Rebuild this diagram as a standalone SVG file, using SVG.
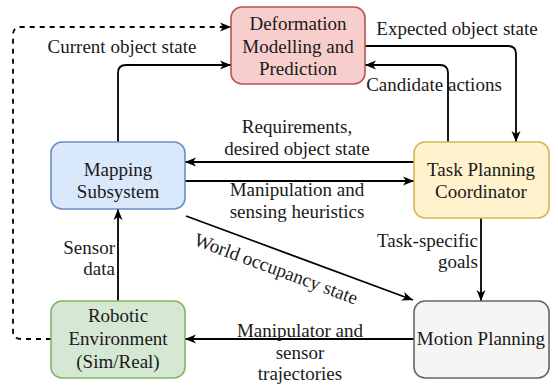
<svg xmlns="http://www.w3.org/2000/svg" width="558" height="387" viewBox="0 0 558 387" font-family="Liberation Serif, DejaVu Serif, serif">
  <style>
    .box { stroke-width: 1.6; }
    .red { fill: #f8cecc; stroke: #b85450; }
    .blue { fill: #dae8fc; stroke: #6c8ebf; }
    .yellow { fill: #fff2cc; stroke: #d6b656; }
    .green { fill: #d5e8d4; stroke: #82b366; }
    .grey { fill: #f5f5f5; stroke: #666666; }
    text { font-family: 'Liberation Serif', 'DejaVu Serif', serif; font-size: 19px; fill: #1a1a1a; }
    .c { text-anchor: middle; }
    .r { text-anchor: end; }
    .edge { fill: none; stroke: #000; stroke-width: 1.8; marker-end: url(#arrow); }
    .dash { stroke-dasharray: 5 5; }
  </style>
  <defs>
    <marker id="arrow" markerUnits="userSpaceOnUse" markerWidth="12" markerHeight="10" refX="11" refY="5" orient="auto">
      <path d="M0,0.5 L11,5 L0,9.5 L3,5 Z" fill="#000"/>
    </marker>
  </defs>
  <rect width="558" height="387" fill="#fff"/>

  <g id="connectors">
    <path class="edge dash" d="M51,339 L21,339 Q13,339 13,331 L13,35 Q13,27 21,27 L231,27"/>
    <path class="edge" d="M118,142 L118,73 Q118,65 126,65 L231,65"/>
    <path class="edge" d="M365,46 L508,46 Q516,46 516,54 L516,142"/>
    <path class="edge" d="M448,142 L448,73 Q448,65 440,65 L365,65"/>
    <path class="edge" d="M414,162 L185,162"/>
    <path class="edge" d="M185,181 L414,181"/>
    <path class="edge" d="M186,216 L413,300"/>
    <path class="edge" d="M481,218 L481,301"/>
    <path class="edge" d="M414,339 L185,339"/>
    <path class="edge" d="M118,301 L118,209"/>

    <text class="c" x="122" y="53">Current object state</text>
    <text class="c" x="457" y="35">Expected object state</text>
    <text class="c" x="434" y="91">Candidate actions</text>
    <text class="c" x="297" y="133">Requirements,</text>
    <text class="c" x="297" y="155">desired object state</text>
    <text class="c" x="297" y="196">Manipulation and</text>
    <text class="c" x="297" y="218">sensing heuristics</text>
    <text class="c" transform="translate(276,269) rotate(20.3)" x="0" y="6">World occupancy state</text>
    <text class="r" x="478" y="247">Task-specific</text>
    <text class="r" x="478" y="268">goals</text>
    <text class="r" x="115" y="254">Sensor</text>
    <text class="r" x="115" y="275">data</text>
    <text class="c" x="300" y="337">Manipulator and</text>
    <text class="c" x="300" y="359">sensor</text>
    <text class="c" x="300" y="380">trajectories</text>
  </g>

  <g id="deformation">
    <rect class="box red" x="231" y="7" width="134" height="77" rx="11"/>
    <text class="c" x="298" y="30">Deformation</text>
    <text class="c" x="298" y="53">Modelling and</text>
    <text class="c" x="298" y="75">Prediction</text>
  </g>

  <g id="mapping">
    <rect class="box blue" x="51" y="142" width="134" height="67" rx="11"/>
    <text class="c" x="118" y="176">Mapping</text>
    <text class="c" x="118" y="198">Subsystem</text>
  </g>

  <g id="task-planning">
    <rect class="box yellow" x="414" y="142" width="135" height="76" rx="11"/>
    <text class="c" x="481" y="176">Task Planning</text>
    <text class="c" x="481" y="198">Coordinator</text>
  </g>

  <g id="robotic-environment">
    <rect class="box green" x="51" y="301" width="134" height="77" rx="11"/>
    <text class="c" x="118" y="322">Robotic</text>
    <text class="c" x="118" y="345">Environment</text>
    <text class="c" x="118" y="368">(Sim/Real)</text>
  </g>

  <g id="motion-planning">
    <rect class="box grey" x="414" y="301" width="135" height="77" rx="11"/>
    <text class="c" x="481" y="345">Motion Planning</text>
  </g>
</svg>
